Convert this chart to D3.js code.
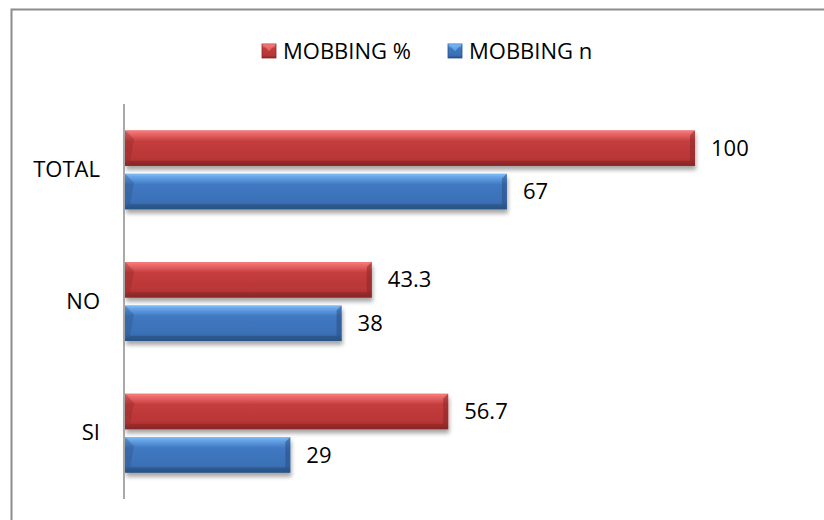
<!DOCTYPE html>
<html>
<head>
<meta charset="utf-8">
<script src="https://cdn.jsdelivr.net/npm/d3@7"></script>
<style>
  html, body { margin: 0; padding: 0; background: #fff; }
  svg { display: block; }
  text { font-family: "Open Sans", sans-serif; fill: #000; }
</style>
</head>
<body>
<svg id="chart" width="824" height="520"></svg>
<script>
// Categories top to bottom and the two series
const categories = ["TOTAL", "NO", "SI"];
const seriesNames = ["MOBBING %", "MOBBING n"];
const mobbingPct = [100, 43.3, 56.7];
const mobbingN = [67, 38, 29];
const valueLabels = [["100", "43.3", "56.7"], ["67", "38", "29"]];

const palettes = [
  { light: "#f47a7a", base: "#c43d3d", mid: "#b83636", dark: "#8a2727", edge: "#e46060" },
  { light: "#7ab8f5", base: "#4079c2", mid: "#3a70b6", dark: "#2a5184", edge: "#5d9ae0" }
];

const FONT = 22;
const svg = d3.select("#chart");
const W = 824, H = 520;

// Outer chart frame (extends past the right and bottom edge)
svg.append("rect")
  .attr("x", 11.5).attr("y", 9.5)
  .attr("width", W + 20).attr("height", H + 20)
  .attr("fill", "#fff").attr("stroke", "#8c8c8c").attr("stroke-width", 2);

const defs = svg.append("defs");
palettes.forEach((p, i) => {
  const g = defs.append("linearGradient").attr("id", "grad" + i)
    .attr("x1", 0).attr("y1", 0).attr("x2", 0).attr("y2", 1);
  g.append("stop").attr("offset", "0%").attr("stop-color", p.light);
  g.append("stop").attr("offset", "14%").attr("stop-color", p.edge);
  g.append("stop").attr("offset", "30%").attr("stop-color", p.base);
  g.append("stop").attr("offset", "80%").attr("stop-color", p.mid);
  g.append("stop").attr("offset", "100%").attr("stop-color", p.dark);
});
const shadow = defs.append("filter").attr("id", "shadow")
  .attr("x", "-5%").attr("y", "-20%").attr("width", "110%").attr("height", "160%");
shadow.append("feGaussianBlur").attr("in", "SourceAlpha").attr("stdDeviation", 2).attr("result", "b");
shadow.append("feOffset").attr("in", "b").attr("dx", 1).attr("dy", 4).attr("result", "o");
shadow.append("feComponentTransfer").attr("in", "o").attr("result", "s")
  .append("feFuncA").attr("type", "linear").attr("slope", 0.35);
const fm = shadow.append("feMerge");
fm.append("feMergeNode").attr("in", "s");
fm.append("feMergeNode").attr("in", "SourceGraphic");

// Scales
const x = d3.scaleLinear().domain([0, 100]).range([125, 695]);
const y = d3.scaleBand().domain(categories).range([104, 499]).paddingInner(0.4).paddingOuter(0.2);
const ySub = d3.scaleBand().domain([0, 1]).range([0, y.bandwidth()]).paddingInner(0.18);

const data = [mobbingPct, mobbingN];

// Bars
const groups = svg.append("g").selectAll("g").data(categories).join("g")
  .attr("transform", d => `translate(0,${y(d)})`);

groups.each(function(cat, ci) {
  const g = d3.select(this);
  data.forEach((vals, si) => {
    const p = palettes[si];
    const x0 = x(0), x1 = x(vals[ci]);
    const y0 = ySub(si), h = ySub.bandwidth();
    const bar = g.append("g").attr("filter", "url(#shadow)");
    bar.append("rect").attr("x", x0).attr("y", y0).attr("width", x1 - x0).attr("height", h)
      .attr("fill", `url(#grad${si})`);
    const b = 5;
    // bevel: right edge darker, left-end triangle
    bar.append("path")
      .attr("d", `M${x1 - b},${y0 + b} L${x1},${y0} L${x1},${y0 + h} L${x1 - b},${y0 + h - b} Z`)
      .attr("fill", p.dark).attr("opacity", 0.55);
    bar.append("path")
      .attr("d", `M${x0},${y0} L${x0 + b + 4},${y0 + b + 4} L${x0 + b},${y0 + h - b} L${x0},${y0 + h} Z`)
      .attr("fill", p.dark).attr("opacity", 0.35);
    bar.append("path")
      .attr("d", `M${x0},${y0 + h} L${x0 + b},${y0 + h - b} L${x1 - b},${y0 + h - b} L${x1},${y0 + h} Z`)
      .attr("fill", p.dark).attr("opacity", 0.6);
    bar.append("path")
      .attr("d", `M${x0},${y0} L${x0 + b},${y0 + 2} L${x1 - b},${y0 + 2} L${x1},${y0} Z`)
      .attr("fill", p.light).attr("opacity", 0.6);

    g.append("text")
      .attr("x", x1 + 16).attr("y", y0 + h / 2)
      .attr("dy", "0.35em").attr("font-size", FONT)
      .text(valueLabels[si][ci]);
  });
});

// Category axis
const axis = svg.append("g").attr("transform", `translate(${x(0) - 1},0)`)
  .call(d3.axisLeft(y).tickSize(0).tickPadding(24));
axis.attr("font-family", null).attr("font-size", null);
axis.select(".domain").attr("stroke", "#8c8c8c").attr("stroke-width", 1.5)
  .attr("d", "M0,104V499");
axis.selectAll("text").attr("font-size", FONT).attr("fill", "#000");

// Legend
const legendItems = [{ x: 262, i: 0 }, { x: 448, i: 1 }];
const legend = svg.append("g");
legendItems.forEach(({ x: lx, i }) => {
  const p = palettes[i];
  legend.append("rect").attr("x", lx).attr("y", 44).attr("width", 14).attr("height", 14)
    .attr("fill", `url(#grad${i})`).attr("stroke", p.dark).attr("stroke-width", 0.8);
  legend.append("path")
    .attr("d", `M${lx},${44} L${lx + 7},${51} L${lx + 14},${44} Z`)
    .attr("fill", p.light).attr("opacity", 0.7);
  legend.append("text").attr("x", lx + 21).attr("y", 51).attr("dy", "0.35em")
    .attr("font-size", FONT).text(seriesNames[i]);
});
</script>
</body>
</html>
